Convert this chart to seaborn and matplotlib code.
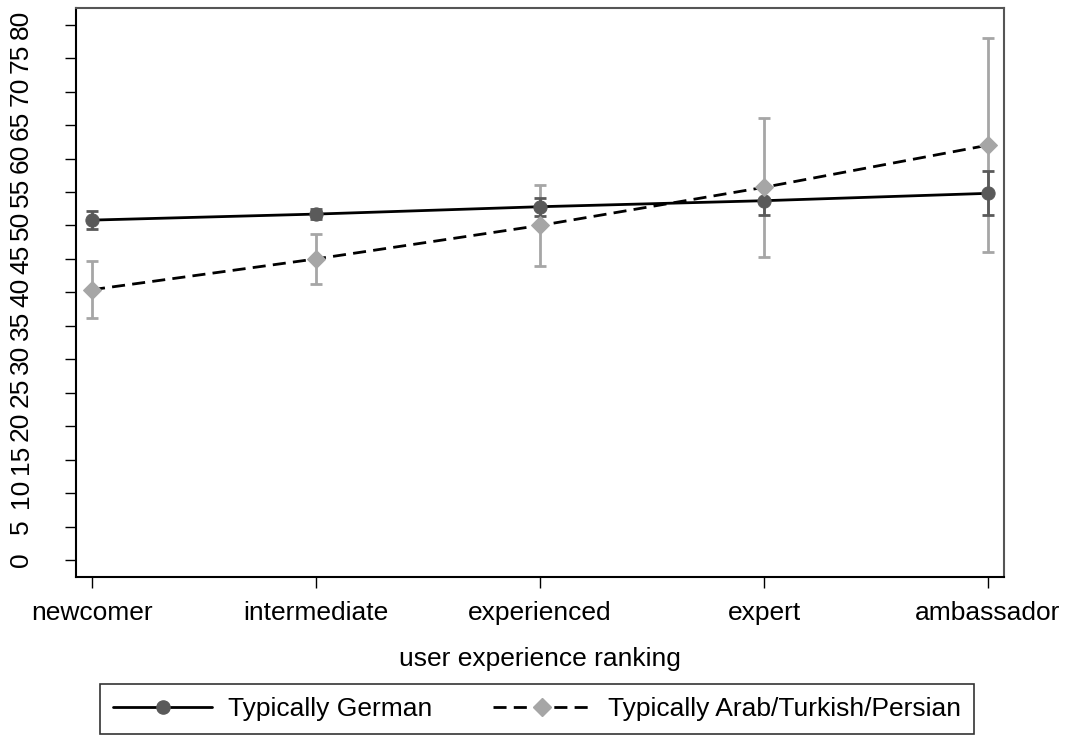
import matplotlib
matplotlib.use("Agg")
import matplotlib.pyplot as plt
import seaborn as sns
import pandas as pd
from matplotlib.lines import Line2D

categories = ["newcomer", "intermediate", "experienced", "expert", "ambassador"]
german_mean = [50.8, 51.7, 52.8, 53.7, 54.8]
german_err = [1.4, 0.7, 1.35, 2.1, 3.3]
arab_mean = [40.4, 45.0, 50.0, 55.7, 62.0]
arab_err = [4.3, 3.75, 6.05, 10.4, 16.0]
yticks = list(range(0, 81, 5))

sns.set_style("white")
plt.rcParams["font.family"] = ["Liberation Sans", "DejaVu Sans"]
plt.rcParams["text.color"] = "black"
plt.rcParams["axes.labelcolor"] = "black"
plt.rcParams["xtick.color"] = "black"
plt.rcParams["ytick.color"] = "black"

FS = 19
fig = plt.figure(figsize=(10.66, 7.35), dpi=100)
ax = fig.add_axes([76 / 1066, 1 - 577 / 735, (1004 - 76) / 1066, (577 - 8) / 735])

df = pd.DataFrame({
    "x": list(range(5)) * 2,
    "mean": german_mean + arab_mean,
    "group": ["Typically German"] * 5 + ["Typically Arab/Turkish/Persian"] * 5,
})

xs = list(range(len(categories)))
dark = "#5a5a5a"
light = "#a6a6a6"
dash = (0, (4.7, 2.6))

# error bars
ax.errorbar(xs, arab_mean, yerr=arab_err, fmt="none", ecolor=light, elinewidth=2,
            capsize=4.5, capthick=2, zorder=2)
ax.errorbar(xs, german_mean, yerr=german_err, fmt="none", ecolor=dark, elinewidth=2,
            capsize=4.5, capthick=2, zorder=3)

dg = df[df.group == "Typically German"]
da = df[df.group != "Typically German"]
sns.lineplot(data=dg, x="x", y="mean", ax=ax, color="black", lw=2, zorder=4,
             marker="o", markersize=9.5, markerfacecolor=dark, markeredgecolor=dark,
             legend=False)
sns.lineplot(data=da, x="x", y="mean", ax=ax, color="black", lw=2, zorder=5,
             linestyle=dash, marker="D", markersize=9.5,
             markerfacecolor=light, markeredgecolor=light, legend=False)

ax.set_xlim(-16 / 224, 4 + 16 / 224)
ax.set_ylim(-2.54, 82.5)
ax.set_xticks(xs)
ax.set_xticklabels(categories, fontsize=FS, color="black")
ax.set_yticks(yticks)
ax.set_yticklabels([str(v) for v in yticks], rotation=90, va="center", fontsize=FS,
                   color="black")
ax.set_xlabel("user experience ranking", fontsize=FS, labelpad=16, color="black")
ax.set_ylabel("")

for s in ["left", "bottom"]:
    ax.spines[s].set_color("black")
    ax.spines[s].set_linewidth(1.5)
for s in ["top", "right"]:
    ax.spines[s].set_color("#555555")
    ax.spines[s].set_linewidth(1.5)
ax.tick_params(axis="both", which="both", direction="out", length=8, width=1,
               color="black", left=True, bottom=True)
ax.tick_params(axis="x", pad=9)
ax.tick_params(axis="y", pad=23)

handles = [
    Line2D([0], [0], color="black", lw=2, marker="o", markersize=9.5,
           markerfacecolor=dark, markeredgecolor=dark),
    Line2D([0], [0], color="black", lw=2, linestyle=dash, marker="D",
           markersize=9.5, markerfacecolor=light, markeredgecolor=light),
]
leg = fig.legend(handles, ["Typically German", "Typically Arab/Turkish/Persian"],
                 loc="center", bbox_to_anchor=(537 / 1066, 1 - 709 / 735), ncol=2,
                 fontsize=FS, frameon=True, fancybox=False, edgecolor="black",
                 handlelength=3.75, handletextpad=0.6, columnspacing=2.3,
                 borderpad=0.5, borderaxespad=0)
leg.get_frame().set_linewidth(1.2)
for t in leg.get_texts():
    t.set_color("black")

fig.savefig("out.png", dpi=100)
